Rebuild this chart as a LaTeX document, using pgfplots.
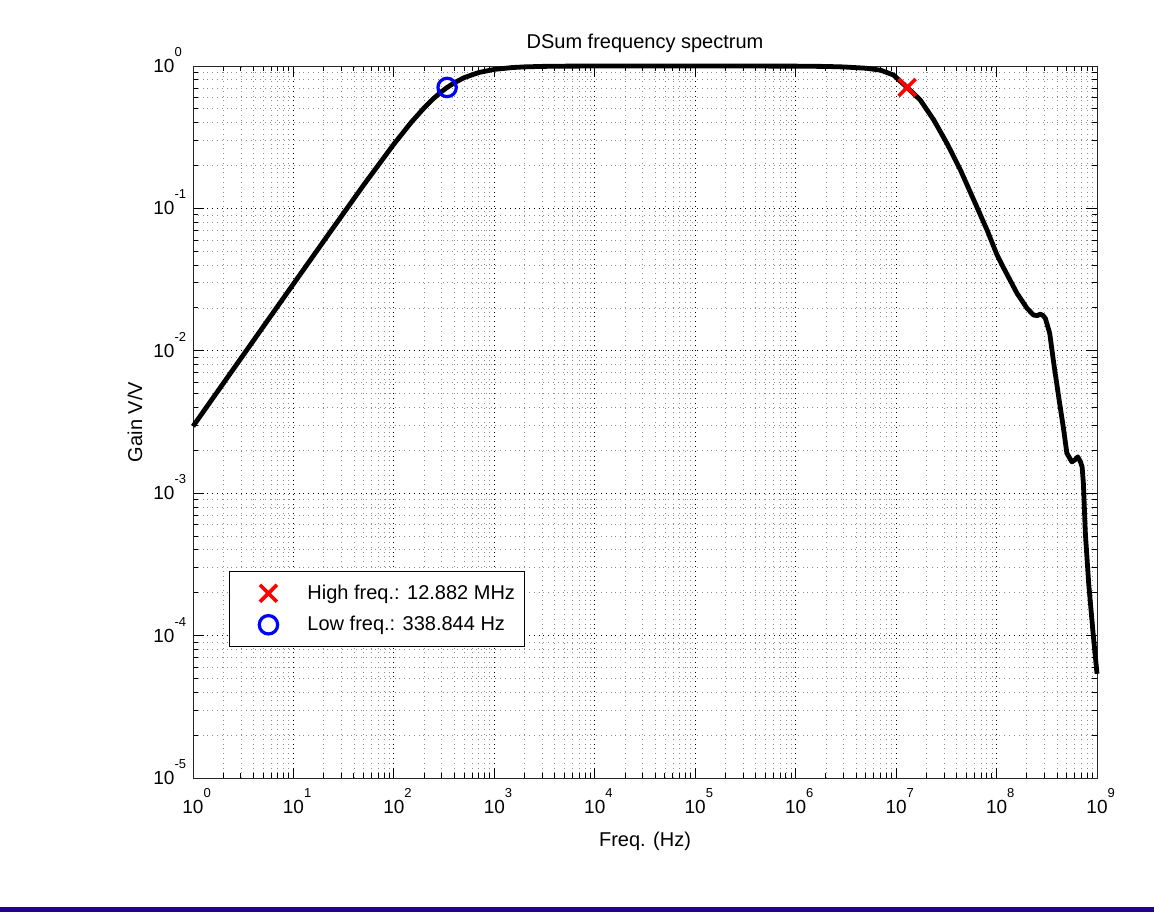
\documentclass[border=0pt]{standalone}
\usepackage{fontspec}
\setmainfont{Liberation Sans}
\usepackage{pgfplots}
\pgfplotsset{compat=1.18}
\definecolor{bandblue}{RGB}{34,0,145}
% MATLAB-style power label: "10" with a small raised exponent hanging to the right
\newcommand{\ex}[1]{10\rlap{\smash{\raisebox{8pt}{\fontsize{6.5}{6.5}\selectfont #1}}}}

\begin{document}
\begin{tikzpicture}
\path[use as bounding box] (-96.5pt,-67pt) rectangle (480.5pt,389pt);
\fill[bandblue] (-96.5pt,-67pt) rectangle (480.5pt,-64.5pt);
\begin{axis}[
  at={(0,0)}, anchor=south west,
  scale only axis, width=452pt, height=356pt,
  xmode=log, ymode=log,
  xmin=1, xmax=1e9, ymin=1e-5, ymax=1,
  clip=false,
  font=\fontsize{10}{12}\selectfont,
  xtick={1,10,100,1000,1e4,1e5,1e6,1e7,1e8,1e9},
  xticklabels={\ex{0},\ex{1},\ex{2},\ex{3},\ex{4},\ex{5},\ex{6},\ex{7},\ex{8},\ex{9}},
  ytick={1e-5,1e-4,1e-3,1e-2,1e-1,1},
  yticklabels={\ex{-5},\ex{-4},\ex{-3},\ex{-2},\ex{-1},\ex{0}},
  tick label style={font=\fontsize{9.5}{11}\selectfont},
  xticklabel style={anchor=north, yshift=-7.7pt},
  yticklabel style={anchor=east, xshift=-5.7pt},
  tick align=inside,
  major tick length=5pt, minor tick length=2.5pt,
  tick style={black, line width=0.5pt},
  axis line style={black!85, line width=0.5pt},
  grid=both,
  major grid style={black, dotted, line width=0.4pt},
  minor grid style={black!45, dotted, line width=0.4pt},
  title={DSum frequency spectrum},
  title style={at={(axis description cs:0.5,1.008)}, anchor=base},
  xlabel={Freq. (Hz)},
  xlabel style={at={(axis description cs:0.5,-0.0955)}, anchor=base},
  ylabel={Gain V/V},
  every axis y label/.style={at={(axis description cs:-0.0642,0.5)}, rotate=90, anchor=center},
  legend style={at={(axis description cs:0.0398,0.184)}, anchor=south west,
    draw=black, line width=0.5pt, fill=white, inner xsep=3pt, inner ysep=4.5pt,
    row sep=3pt, cells={anchor=west}, font=\fontsize{10}{12}\selectfont},
  legend image code/.code={\path[draw=none,fill=none] (0pt,-4pt) (34pt,4pt);
    \draw[#1] plot coordinates {(16.5pt,0pt)};},
]
\addplot[black, line width=2.4pt, line join=round, forget plot] table {
f g
1 0.00295
2 0.0059
5 0.01476
10 0.0295
20 0.0589
50 0.146
100 0.283
150 0.405
200 0.508
250 0.594
300 0.663
338.844 0.707
400 0.763
500 0.828
700 0.900
1000 0.947
1500 0.975
2000 0.986
3000 0.9937
5000 0.9977
1e4 0.9994
1e5 1.0
1e6 0.998
2e6 0.993
3e6 0.985
5e6 0.965
7e6 0.935
9.4e6 0.865
1.2882e7 0.7071
1.74e7 0.577
2.37e7 0.418
3.21e7 0.286
4.37e7 0.186
5.93e7 0.1146
8.04e7 0.0705
1.0e8 0.048
1.18e8 0.038
1.6e8 0.0253
2.01e8 0.0199
2.34e8 0.0178
2.55e8 0.0177
2.73e8 0.0181
2.9e8 0.0177
3.06e8 0.0169
3.38e8 0.0133
3.71e8 0.00817
4.15e8 0.00476
4.66e8 0.00278
5.01e8 0.00191
5.62e8 0.00166
6.0e8 0.00171
6.43e8 0.0018
6.8e8 0.00168
7.11e8 0.00153
7.32e8 0.00117
7.66e8 0.00052
8.26e8 0.000233
9.14e8 0.000104
1e9 0.000054
};
\addplot[only marks, mark=x, red, mark size=6pt, line width=1.8pt] coordinates {(12.882e6,0.7071)};
\addlegendentry{High freq.: 12.882 MHz}
\addplot[only marks, mark=o, blue, mark size=4.6pt, line width=1.6pt] coordinates {(338.844,0.7071)};
\addlegendentry{Low freq.: 338.844 Hz}
\end{axis}
\end{tikzpicture}
\end{document}
